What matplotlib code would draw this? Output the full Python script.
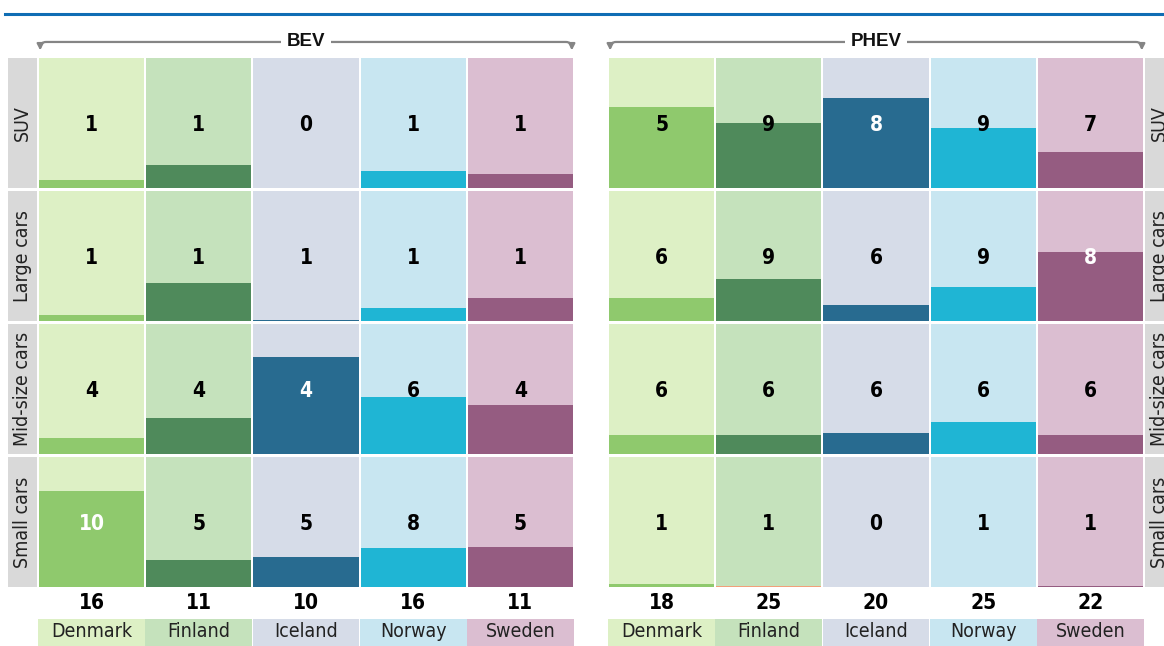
import numpy as np
import matplotlib.pyplot as plt
from matplotlib.lines import Line2D

countries = ['Denmark', 'Finland', 'Iceland', 'Norway', 'Sweden']
sizes = ['Small cars', 'Mid-size cars', 'Large cars', 'SUV']  # bottom to top

# filled share of each cell (rows bottom to top)
bev_share = [
    [0.74, 0.21, 0.23, 0.30, 0.31],
    [0.12, 0.28, 0.75, 0.44, 0.38],
    [0.05, 0.29, 0.01, 0.10, 0.18],
    [0.06, 0.18, 0.00, 0.13, 0.11],
]
bev_count = [
    [10, 5, 5, 8, 5],
    [4, 4, 4, 6, 4],
    [1, 1, 1, 1, 1],
    [1, 1, 0, 1, 1],
]
bev_total = [16, 11, 10, 16, 11]

phev_share = [
    [0.02, 0.01, 0.00, 0.00, 0.01],
    [0.15, 0.15, 0.16, 0.25, 0.15],
    [0.18, 0.32, 0.12, 0.26, 0.53],
    [0.62, 0.50, 0.69, 0.46, 0.28],
]
phev_count = [
    [1, 1, 0, 1, 1],
    [6, 6, 6, 6, 6],
    [6, 9, 6, 9, 8],
    [5, 9, 8, 9, 7],
]
phev_total = [18, 25, 20, 25, 22]

light = ['#ddf0c5', '#c5e2bc', '#d6dce8', '#c8e6f1', '#dbbed1']
dark = ['#8fc96d', '#4f8a5b', '#286b90', '#1fb5d4', '#955c81']
grey = '#d9d9d9'

NARROW = dict(family=['DejaVu Sans'], fontstretch='condensed')
CELL_H = 0.977


def draw_panel(ax, share, count, total, title, white_cells, strip_right, fix=None):
    x = np.arange(len(countries))
    share = np.array(share)
    for r, size in enumerate(sizes):
        ax.bar(x, CELL_H, bottom=r, width=0.98, color=light, align='center')
        cols = list(dark)
        if fix:
            for (fr, fc), c in fix.items():
                if fr == r:
                    cols[fc] = c
        ax.bar(x, share[r] * CELL_H, bottom=r, width=0.98, color=cols)
        for i in x:
            col = 'white' if (r, i) in white_cells else 'black'
            ax.text(i, r + CELL_H / 2 - 0.015, str(count[r][i]), ha='center', va='center',
                    fontsize=15, fontweight='bold', color=col, **NARROW)
        sx = 4.5 + 0.145 if strip_right else -0.5 - 0.145
        ax.bar(sx, CELL_H, bottom=r, width=0.27, color=grey)
        ax.text(sx, r + CELL_H / 2, size, rotation=90, ha='center', va='center',
                fontsize=14, color='#222222', **NARROW)

    for i in x:
        ax.text(i, -0.12, str(total[i]), ha='center', va='center', fontsize=15,
                fontweight='bold', **NARROW)
        ax.text(i, -0.338, countries[i], ha='center', va='center', fontsize=14,
                color='#222222', **NARROW)
    ax.bar(x, 0.22, bottom=-0.46, width=0.995, color=light)

    # bracket with arrows
    yb = 4.098
    for end in (-0.48, 4.48):
        ax.annotate('', xy=(end, 4.035), xytext=(2, yb), annotation_clip=False,
                    arrowprops=dict(arrowstyle='-|>,head_length=0.35,head_width=0.18',
                                    connectionstyle='angle,angleA=0,angleB=90,rad=6',
                                    color='#858585', lw=1.6, shrinkA=0, shrinkB=0))
    ax.text(2, yb, title, ha='center', va='center', fontsize=13.5, fontweight='bold',
            family=['Liberation Sans', 'DejaVu Sans'], color='#111111', zorder=5,
            bbox=dict(boxstyle='square,pad=0.3', fc='white', ec='none'))

    if strip_right:
        ax.set_xlim(-0.5, 4.78)
    else:
        ax.set_xlim(-0.78, 4.5)
    ax.set_ylim(-0.4436, 4.0)
    ax.axis('off')


fig = plt.figure(figsize=(11.64, 6.46), dpi=100)
W, H = 1164.0, 646.0
ax1 = fig.add_axes([8 / W, 0, 566 / W, 591 / H])
ax2 = fig.add_axes([608 / W, 0, 566 / W, 591 / H])

draw_panel(ax1, bev_share, bev_count, bev_total, 'BEV', {(0, 0), (1, 2)}, False)
draw_panel(ax2, phev_share, phev_count, phev_total, 'PHEV', {(3, 2), (2, 4)}, True,
           fix={(0, 1): '#f2a07a'})

fig.add_artist(Line2D([5 / W, 1], [1 - 14 / H, 1 - 14 / H], color='#0f6db4', lw=2.2))

fig.savefig('out.png', dpi=100)
